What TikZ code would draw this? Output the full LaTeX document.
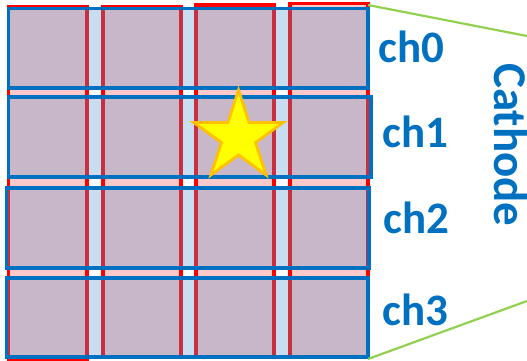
\documentclass[tikz,border=0pt]{standalone}
\usepackage{fontspec}
\setmainfont{Carlito}
\usetikzlibrary{shapes.geometric}
\definecolor{pinkfill}{HTML}{FFC9C9}
\definecolor{rowfill}{HTML}{5494CC}
\definecolor{rowline}{HTML}{0070C0}
\definecolor{colline}{HTML}{FF0000}
\definecolor{starfill}{HTML}{FFFF00}
\definecolor{starline}{HTML}{FFC000}
\definecolor{leader}{HTML}{92D050}
\definecolor{labelblue}{HTML}{0070C0}
\begin{document}
\begin{tikzpicture}[x=1pt,y=-1pt,
  colbox/.style={fill=pinkfill, draw=colline, line width=3.4pt},
  rowbox/.style={fill=rowfill, fill opacity=0.32, draw=rowline, draw opacity=1, line width=3.6pt},
  chlabel/.style={font=\fontsize{45}{45}\selectfont\bfseries, text=labelblue, inner sep=0pt, anchor=base west},
  leaderline/.style={draw=leader, line width=2.2pt}]
\useasboundingbox (0,0) rectangle (527,361);
% columns
\draw[colbox] (8.5,6.5) rectangle (87,359);
\draw[colbox] (103,6.5) rectangle (181,357);
\draw[colbox] (196,5) rectangle (274,357);
\draw[colbox] (290,3.5) rectangle (368,357);
% rows
\draw[rowbox] (8.5,8.5) rectangle (368,88);
\draw[rowbox] (8.5,97) rectangle (371,177);
\draw[rowbox] (6.5,188) rectangle (369,268);
\draw[rowbox] (6.5,278) rectangle (368,357);
% star
\node[star, star points=5, star point ratio=2.618, minimum size=94pt, inner sep=0pt,
  fill=starfill, draw=starline, line width=2.8pt] (hit) at (238.5,137) {};
% leader lines
\coordinate (gridne) at (368,5);
\coordinate (gridse) at (368,359);
\coordinate (farne) at (527,36);
\coordinate (farse) at (527,301);
\draw[leaderline] (gridne) -- (farne);
\draw[leaderline] (gridse) -- (farse);
% labels
\node[chlabel] (ch0) at (378,63) {ch0};
\node[chlabel] (ch1) at (382,147) {ch1};
\node[chlabel] (ch2) at (383,233) {ch2};
\node[chlabel] (ch3) at (382,325) {ch3};
\node[chlabel, font=\fontsize{47}{47}\selectfont\bfseries, rotate=-90] (cathode) at (494,63) {Cathode};
\end{tikzpicture}
\end{document}
